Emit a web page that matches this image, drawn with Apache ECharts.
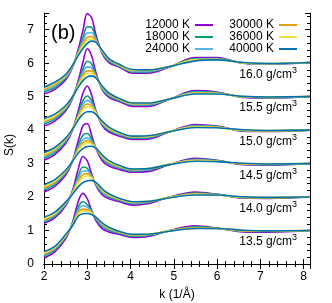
<!DOCTYPE html>
<html><head><meta charset="utf-8">
<script src="https://cdn.jsdelivr.net/npm/echarts@6/dist/echarts.min.js"></script>
<style>html,body{margin:0;padding:0;background:#fff}#c{width:332px;height:303px}</style>
</head><body><div id="c"></div>
<script>
// wavenumber grid k (1/Å)
const K = [2.0, 2.25, 2.5, 2.65, 2.8, 2.9, 3.0, 3.1, 3.2, 3.35, 3.5, 3.75, 4.05, 4.4, 4.9, 5.5, 6.0, 6.6, 7.2, 8.15];
const temperatures = ['12000 K', '18000 K', '24000 K', '30000 K', '36000 K', '40000 K'];
const densities = ['13.5', '14.0', '14.5', '15.0', '15.5', '16.0'];
const offsets = [0, 1, 2, 3, 4, 5];
const colors = ['#9400d3', '#009e73', '#56b4e9', '#e69f00', '#f0e442', '#0072b2'];

// S(k) per density, rows = temperatures (12000 ... 40000 K)
const S_13_5 = [
  [0.18,0.36,0.75,1.20,1.90,2.11,1.95,1.60,1.30,1.05,0.96,0.88,0.79,0.82,1.00,1.14,1.07,0.96,0.95,1.00],
  [0.24,0.42,0.80,1.18,1.72,1.86,1.78,1.58,1.34,1.12,1.01,0.92,0.83,0.85,0.99,1.11,1.07,0.98,0.97,1.00],
  [0.27,0.45,0.82,1.16,1.63,1.74,1.70,1.56,1.37,1.15,1.04,0.94,0.85,0.87,0.99,1.09,1.07,0.99,0.98,1.00],
  [0.30,0.48,0.84,1.15,1.56,1.64,1.63,1.54,1.39,1.18,1.06,0.95,0.87,0.88,0.99,1.08,1.06,0.99,0.98,1.00],
  [0.33,0.50,0.86,1.14,1.51,1.58,1.58,1.52,1.40,1.20,1.08,0.96,0.88,0.89,0.99,1.07,1.06,1.00,0.99,1.00],
  [0.37,0.53,0.88,1.13,1.44,1.50,1.51,1.48,1.40,1.22,1.10,0.97,0.89,0.89,0.98,1.06,1.06,1.01,0.99,1.00]
];
const S_14_0 = [
  [0.22,0.38,0.74,1.16,1.88,2.21,2.08,1.70,1.35,1.06,0.95,0.86,0.76,0.80,1.00,1.15,1.08,0.97,0.96,1.00],
  [0.26,0.43,0.78,1.13,1.67,1.90,1.86,1.64,1.38,1.12,1.00,0.90,0.80,0.84,0.99,1.12,1.08,0.98,0.97,1.00],
  [0.29,0.46,0.80,1.12,1.58,1.77,1.78,1.62,1.40,1.15,1.03,0.92,0.82,0.85,0.99,1.10,1.07,0.99,0.98,1.00],
  [0.32,0.49,0.82,1.10,1.50,1.67,1.70,1.60,1.42,1.18,1.05,0.93,0.84,0.86,0.99,1.09,1.07,0.99,0.98,1.00],
  [0.35,0.51,0.83,1.09,1.45,1.59,1.63,1.57,1.43,1.20,1.07,0.94,0.85,0.87,0.99,1.08,1.06,1.00,0.99,1.00],
  [0.40,0.55,0.85,1.07,1.32,1.43,1.49,1.50,1.44,1.24,1.10,0.96,0.86,0.87,0.98,1.06,1.06,1.01,0.99,1.00]
];
const S_14_5 = [
  [0.15,0.32,0.66,1.04,1.72,2.13,2.20,1.85,1.45,1.08,0.93,0.82,0.74,0.76,0.97,1.16,1.10,0.97,0.96,1.00],
  [0.21,0.38,0.71,1.05,1.57,1.85,1.90,1.73,1.46,1.14,0.99,0.87,0.78,0.80,0.97,1.13,1.09,0.98,0.97,1.00],
  [0.25,0.42,0.74,1.06,1.50,1.72,1.77,1.67,1.46,1.17,1.02,0.89,0.80,0.82,0.97,1.11,1.08,0.99,0.98,1.00],
  [0.28,0.45,0.76,1.06,1.45,1.63,1.69,1.62,1.46,1.19,1.04,0.91,0.82,0.84,0.98,1.10,1.07,0.99,0.98,1.00],
  [0.32,0.48,0.78,1.06,1.41,1.56,1.62,1.58,1.46,1.21,1.06,0.92,0.83,0.85,0.98,1.09,1.07,1.00,0.99,1.00],
  [0.37,0.52,0.80,1.05,1.33,1.45,1.51,1.52,1.46,1.25,1.09,0.94,0.84,0.85,0.97,1.07,1.06,1.01,0.99,1.00]
];
const S_15_0 = [
  [0.10,0.27,0.60,0.97,1.62,2.10,2.32,2.05,1.58,1.13,0.94,0.82,0.72,0.73,0.95,1.17,1.12,0.97,0.96,1.00],
  [0.16,0.33,0.65,0.99,1.52,1.88,2.02,1.88,1.55,1.17,0.99,0.86,0.76,0.77,0.95,1.14,1.11,0.98,0.97,1.00],
  [0.20,0.37,0.68,1.00,1.47,1.77,1.89,1.80,1.54,1.19,1.02,0.88,0.78,0.79,0.95,1.12,1.10,0.99,0.98,1.00],
  [0.24,0.41,0.71,1.01,1.43,1.68,1.78,1.72,1.52,1.21,1.04,0.90,0.80,0.81,0.96,1.11,1.09,0.99,0.98,1.00],
  [0.28,0.44,0.73,1.01,1.39,1.61,1.70,1.67,1.51,1.22,1.06,0.91,0.81,0.82,0.96,1.10,1.08,1.00,0.99,1.00],
  [0.33,0.48,0.76,1.01,1.32,1.48,1.55,1.55,1.47,1.26,1.09,0.93,0.82,0.83,0.95,1.08,1.07,1.01,0.99,1.00]
];
const S_15_5 = [
  [0.12,0.27,0.57,0.92,1.52,2.03,2.43,2.22,1.72,1.20,0.98,0.85,0.71,0.71,0.92,1.18,1.14,0.98,0.96,1.00],
  [0.18,0.33,0.62,0.95,1.45,1.82,2.06,1.98,1.65,1.23,1.02,0.88,0.75,0.75,0.92,1.15,1.12,0.99,0.97,1.00],
  [0.22,0.37,0.65,0.96,1.41,1.72,1.89,1.86,1.62,1.25,1.05,0.90,0.77,0.77,0.93,1.13,1.11,0.99,0.98,1.00],
  [0.26,0.40,0.68,0.97,1.38,1.64,1.77,1.77,1.60,1.27,1.07,0.91,0.79,0.79,0.93,1.11,1.10,1.00,0.98,1.00],
  [0.29,0.43,0.70,0.97,1.35,1.58,1.69,1.70,1.58,1.28,1.09,0.92,0.80,0.80,0.93,1.10,1.09,1.00,0.99,1.00],
  [0.35,0.48,0.73,0.98,1.30,1.48,1.59,1.62,1.56,1.31,1.11,0.94,0.81,0.81,0.93,1.08,1.08,1.01,0.99,1.00]
];
const S_16_0 = [
  [0.08,0.22,0.50,0.85,1.45,1.98,2.48,2.36,1.85,1.28,1.02,0.88,0.70,0.70,0.88,1.17,1.17,1.00,0.97,1.02],
  [0.14,0.28,0.55,0.88,1.38,1.76,2.09,2.07,1.76,1.31,1.06,0.90,0.74,0.74,0.89,1.14,1.14,1.01,0.98,1.02],
  [0.18,0.32,0.58,0.89,1.34,1.66,1.90,1.91,1.71,1.33,1.09,0.92,0.76,0.76,0.89,1.12,1.13,1.01,0.98,1.02],
  [0.22,0.36,0.61,0.90,1.31,1.58,1.77,1.80,1.67,1.34,1.11,0.93,0.78,0.78,0.90,1.11,1.12,1.01,0.99,1.02],
  [0.25,0.39,0.63,0.91,1.29,1.52,1.69,1.73,1.64,1.35,1.12,0.94,0.79,0.79,0.90,1.10,1.11,1.01,0.99,1.02],
  [0.28,0.43,0.66,0.92,1.25,1.44,1.59,1.66,1.63,1.38,1.14,0.96,0.81,0.80,0.90,1.07,1.10,1.02,0.99,1.02]
];
const groups = [S_13_5, S_14_0, S_14_5, S_15_0, S_15_5, S_16_0];

const FONT = 'Liberation Sans, Arial, Helvetica, sans-serif';
const series = [];
for (let t = 0; t < temperatures.length; t++) {
  for (let g = 0; g < groups.length; g++) {
    series.push({
      type: 'line', name: temperatures[t], symbol: 'none', showSymbol: false,
      smooth: 0.35, color: colors[t],
      lineStyle: { width: 1.6, color: colors[t] },
      z: 2 + t,
      data: K.map((k, i) => [k, groups[g][t][i] + offsets[g]])
    });
  }
}

const axisCommon = {
  axisLine: { show: true, lineStyle: { color: '#000', width: 1 } },
  axisTick: { show: true, inside: true, length: 5, lineStyle: { color: '#000' } },
  minorTick: { show: true, splitNumber: 5, length: 3, lineStyle: { color: '#000' } },
  splitLine: { show: false }, minorSplitLine: { show: false }
};

const legendCommon = {
  orient: 'vertical', align: 'right', top: 19, padding: 0, itemGap: 0,
  itemWidth: 18, itemHeight: 2, icon: 'rect',
  textStyle: { fontFamily: FONT, fontSize: 12, color: '#000', lineHeight: 11.5 }
};

const chart = echarts.init(document.getElementById('c'));
chart.setOption({
  animation: false,
  backgroundColor: '#fff',
  grid: { left: 44, right: 22, top: 13, bottom: 39 },
  legend: [
    Object.assign({ data: temperatures.slice(0, 3), right: 119 }, legendCommon),
    Object.assign({ data: temperatures.slice(3, 6), right: 35 }, legendCommon)
  ],
  xAxis: [
    Object.assign({ type: 'value', min: 2, max: 8.15, interval: 1, position: 'bottom',
      axisLabel: { margin: 7, fontFamily: FONT, fontSize: 12, color: '#000',
        formatter: v => (Math.abs(v - Math.round(v)) < 1e-6 ? String(Math.round(v)) : '') } }, axisCommon),
    Object.assign({ type: 'value', min: 2, max: 8.15, interval: 1, position: 'top',
      axisLabel: { show: false } }, axisCommon)
  ],
  yAxis: [
    Object.assign({ type: 'value', min: 0, max: 7.5, interval: 1, position: 'left',
      axisLabel: { margin: 10, fontFamily: FONT, fontSize: 12, color: '#000',
        formatter: v => (Math.abs(v - Math.round(v)) < 1e-6 ? String(Math.round(v)) : '') } }, axisCommon),
    Object.assign({ type: 'value', min: 0, max: 7.5, interval: 1, position: 'right',
      axisLabel: { show: false } }, axisCommon)
  ],
  graphic: [
    { type: 'text', x: 51, y: 33, style: { text: '(b)', font: '20px ' + FONT, fill: '#000', verticalAlign: 'middle' } },
    { type: 'text', x: 177, y: 295, style: { text: 'k (1/Å)', font: '12px ' + FONT, fill: '#000', align: 'center', verticalAlign: 'middle' } },
    { type: 'text', x: 10, y: 145, rotation: Math.PI / 2, style: { text: 'S(k)', font: '12px ' + FONT, fill: '#000', align: 'center', verticalAlign: 'middle' } }
  ].concat(densities.map((d, i) => ({
    type: 'text', x: 297, y: [242, 209, 176, 142, 108, 75][i],
    style: {
      text: d + ' g/cm{sup|3}', align: 'right', verticalAlign: 'middle',
      font: '12px ' + FONT, fill: '#000',
      rich: { sup: { fontSize: 9, fontFamily: FONT, verticalAlign: 'top', padding: [0, 0, 8, 0], fill: '#000' } }
    }
  }))),
  series: series
});
</script>
</body></html>
